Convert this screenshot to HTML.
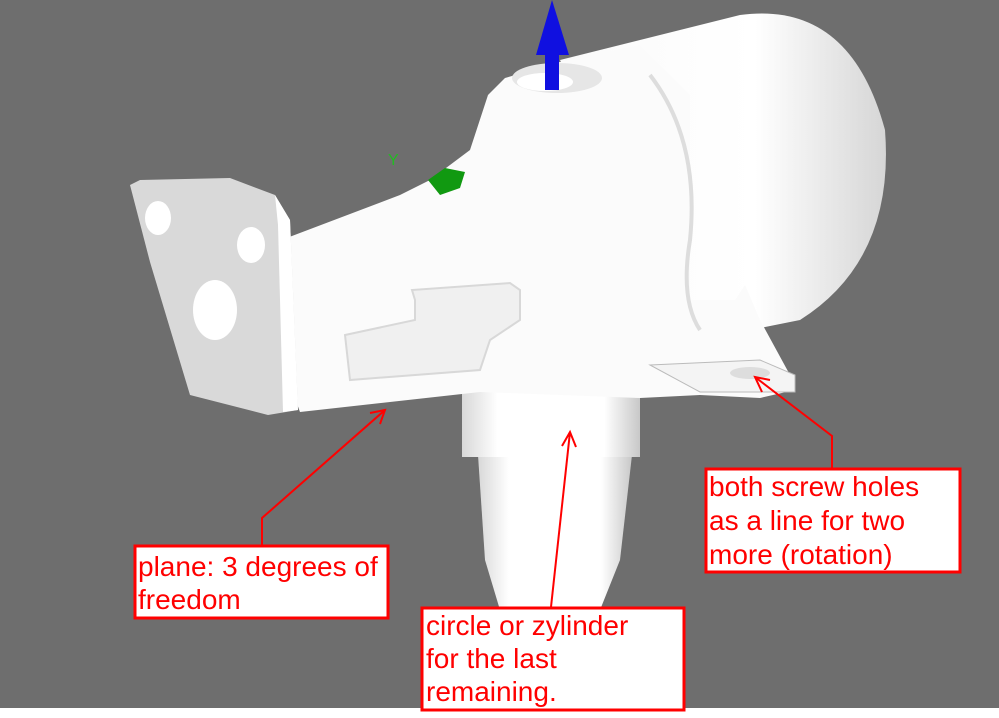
<!DOCTYPE html>
<html><head><style>
body{margin:0;width:999px;height:718px;overflow:hidden;background:#fff}
svg{display:block}
text{font-family:"Liberation Sans",sans-serif;font-size:28px;fill:#f00}
</style></head><body>
<svg width="999" height="718" viewBox="0 0 999 718">
<defs>
<linearGradient id="cyl" x1="0" x2="1"><stop offset="0" stop-color="#d8d8d8"/><stop offset=".2" stop-color="#fff"/><stop offset=".8" stop-color="#fff"/><stop offset="1" stop-color="#c8c8c8"/></linearGradient>
<linearGradient id="big" x1="0" x2="1"><stop offset="0" stop-color="#fafafa"/><stop offset=".6" stop-color="#fff"/><stop offset="1" stop-color="#d6d6d6"/></linearGradient>
</defs>
<rect width="999" height="708" fill="#6e6e6e"/>
<path d="M478,455 L632,455 L620,560 L600,610 L500,610 L485,560 Z" fill="url(#cyl)"/>
<rect x="462" y="385" width="178" height="72" fill="url(#cyl)"/>
<path d="M560,60 L740,15 Q850,0 885,130 Q895,260 800,320 L700,340 Z" fill="url(#big)"/>
<path d="M255,250 L400,195 L430,180 L470,150 L488,95 L505,78 L560,62 L640,45 L690,95 L690,300 L735,300 L745,285 L760,320 L790,375 L795,390 L760,398 L700,395 L640,398 L480,392 L300,412 L270,330 Z" fill="#fbfbfb"/>
<path d="M650,75 Q700,140 690,240 Q680,300 700,330" fill="none" stroke="#ddd" stroke-width="4"/>
<path d="M345,335 L415,320 L415,300 L412,290 L510,283 L520,290 L520,320 L490,340 L480,370 L350,380 Z" fill="#f0f0f0" stroke="#d8d8d8" stroke-width="2"/>
<path d="M650,365 L760,360 L795,375 L795,392 L700,392 Z" fill="#f4f4f4" stroke="#bbb" stroke-width="1"/>
<ellipse cx="750" cy="373" rx="20" ry="6" fill="#ddd"/>
<path d="M130,185 L140,180 L230,178 L275,195 L290,220 L298,410 L268,415 L190,395 L150,262 Z" fill="#d9d9d9"/>
<path d="M275,195 L290,220 L298,410 L283,412 L278,225 Z" fill="#fff"/>
<ellipse cx="158" cy="218" rx="13" ry="17" fill="#fff"/>
<ellipse cx="251" cy="245" rx="14" ry="18" fill="#fff"/>
<ellipse cx="215" cy="310" rx="22" ry="30" fill="#fff"/>
<ellipse cx="557" cy="78" rx="45" ry="15" fill="#e6e6e6"/>
<ellipse cx="545" cy="82" rx="28" ry="9" fill="#fff"/>
<rect x="545" y="50" width="14" height="40" fill="#1010e0"/>
<path d="M552,0 L536,55 L569,55 Z" fill="#1010e0"/>
<path d="M428,180 L445,168 L465,172 L460,188 L440,195 Z" fill="#119911"/>
<text x="388" y="165" style="font-size:16px;fill:#22bb22">Y</text>
<g stroke="#f00" stroke-width="2" fill="none">
<path d="M262,547 L262,518 L385,410"/><path d="M370,413 L385,410 L380,424"/>
<path d="M551,607 L570,432"/><path d="M562,446 L570,432 L576,447"/>
<path d="M832,468 L832,436 L755,377"/><path d="M770,380 L755,377 L762,392"/>
</g>
<g fill="#fff" stroke="#f00" stroke-width="3">
<rect x="135" y="546" width="253" height="72"/>
<rect x="422" y="608" width="262" height="102"/>
<rect x="706" y="469" width="254" height="103"/>
</g>
<text x="138" y="576">plane: 3 degrees of</text>
<text x="138" y="609">freedom</text>
<text x="426" y="635">circle or zylinder</text>
<text x="426" y="668">for the last</text>
<text x="426" y="701">remaining.</text>
<text x="709" y="496">both screw holes</text>
<text x="709" y="530">as a line for two</text>
<text x="709" y="564">more (rotation)</text>
</svg>
</body></html>
